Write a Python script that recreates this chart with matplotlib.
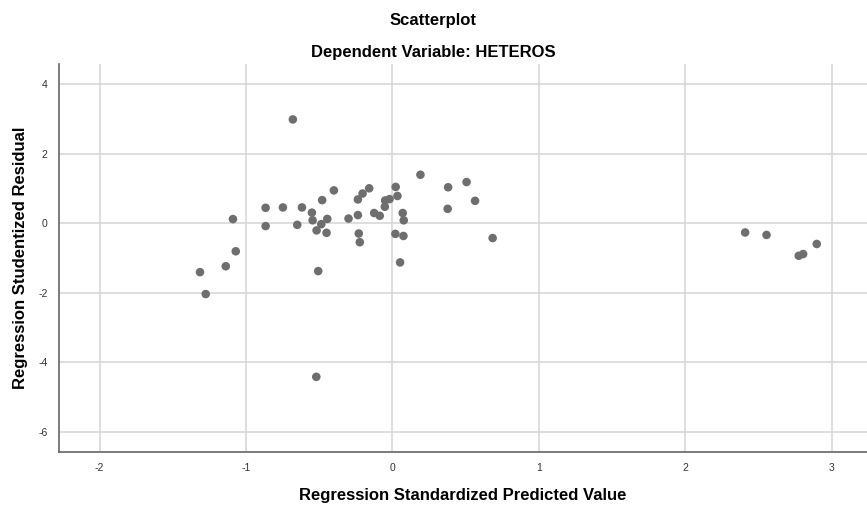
import matplotlib.pyplot as plt

plt.rcParams["font.family"] = ["Liberation Sans", "DejaVu Sans"]

# Regression standardized predicted value vs studentized residual
pred = [-0.68, -0.40, -0.48, -0.866, -0.748, -0.618, -0.55, -0.236, -1.089, -0.866,
        -0.65, -0.545, -0.445, -0.30, -0.236, -0.486, -0.518, -0.45, -0.23,
        0.191, 0.38, 0.506, 0.564, 0.377, 0.684, -0.159, -0.204, 0.022, 0.034,
        -0.05, -0.02, -0.052, -0.125, -0.087, 0.07, 0.077, -0.223, 0.02, 0.075, 0.052,
        -1.07, -1.138, -1.314, -1.275, -0.507, -0.52,
        2.408, 2.554, 2.774, 2.804, 2.897]
resid = [2.98, 0.94, 0.66, 0.44, 0.45, 0.45, 0.30, 0.68, 0.115, -0.086,
         -0.05, 0.08, 0.12, 0.13, 0.23, -0.03, -0.21, -0.28, -0.30,
         1.39, 1.03, 1.18, 0.64, 0.41, -0.43, 1.00, 0.85, 1.04, 0.78,
         0.65, 0.69, 0.47, 0.29, 0.21, 0.29, 0.08, -0.55, -0.31, -0.37, -1.13,
         -0.81, -1.24, -1.41, -2.04, -1.38, -4.42,
         -0.27, -0.34, -0.94, -0.89, -0.60]

xticks = [-2, -1, 0, 1, 2, 3]
yticks = [4, 2, 0, -2, -4, -6]

fig = plt.figure(figsize=(8.67, 5.05), dpi=100)
ax = fig.add_axes([0.0675, 0.105, 0.9325, 0.768])

ax.scatter(pred, resid, s=38, color="#6e6e6e", edgecolors="none", zorder=3)

ax.set_xlim(-2.28, 3.24)
ax.set_ylim(-6.58, 4.57)
ax.set_xticks(xticks, [str(t) for t in xticks])
ax.set_yticks(yticks, [str(t) for t in yticks])
ax.tick_params(length=0, labelsize=7.5, colors="#333333", pad=8)
ax.grid(True, color="#d4d4d4", linewidth=1.1)
ax.set_axisbelow(True)

for side in ["top", "right"]:
    ax.spines[side].set_visible(False)
for side in ["left", "bottom"]:
    ax.spines[side].set_color("#666666")
    ax.spines[side].set_linewidth(1.2)

ax.set_xlabel("Regression Standardized Predicted Value", fontsize=12, fontweight="bold", va="center")
ax.set_ylabel("Regression Studentized Residual", fontsize=12, fontweight="bold", va="center")
ax.xaxis.set_label_coords(0.5, -0.111)
ax.yaxis.set_label_coords(-0.047, 0.5)

fig.text(0.5, 0.96, "Scatterplot", ha="center", va="center", fontsize=12, fontweight="bold")
fig.text(0.5, 0.897, "Dependent Variable: HETEROS", ha="center", va="center", fontsize=12, fontweight="bold")

fig.savefig("out.png", dpi=100)
